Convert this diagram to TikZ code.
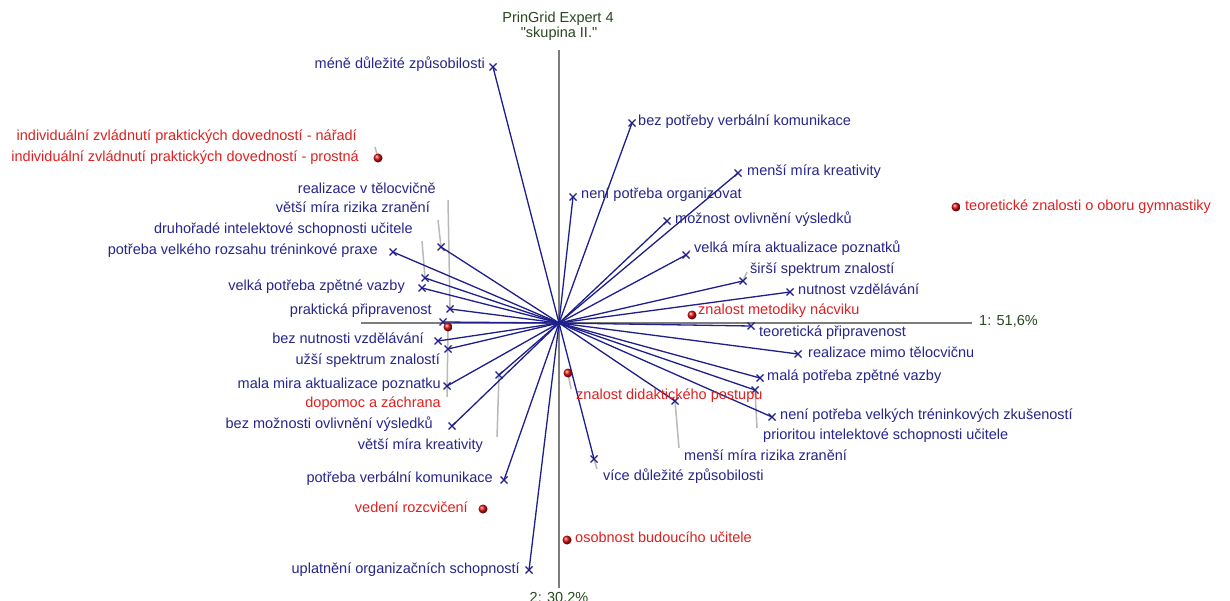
\documentclass[tikz,border=0pt]{standalone}
\usepackage{fontspec}
\setmainfont{Liberation Sans}
\usetikzlibrary{shadings}

\definecolor{rayblue}{RGB}{30,30,140}
\definecolor{txtblue}{RGB}{38,38,140}
\definecolor{txtred}{RGB}{222,32,32}
\definecolor{dotred}{RGB}{215,10,10}
\definecolor{titlegreen}{RGB}{40,72,32}
\definecolor{axisgray}{RGB}{125,125,125}
\definecolor{leadgray}{RGB}{185,185,185}

\tikzset{
  ray/.style={draw=rayblue, line width=1.3pt},
  axisline/.style={draw=axisgray, line width=1.2pt},
  leader/.style={draw=leadgray, line width=1.5pt},
  crossline/.style={draw=rayblue, line width=1.2pt},
  xmark/.pic={\draw[crossline] (-3.5,-3.5) -- (3.5,3.5) (-3.5,3.5) -- (3.5,-3.5);},
  lbl/.style={inner sep=0pt, text height=10pt, text depth=3pt, font=\fontsize{14.5}{16}\selectfont},
  bl/.style={lbl, text=txtblue},
  rl/.style={lbl, text=txtred},
  gl/.style={lbl, text=titlegreen},
  reddot/.style={circle, inner sep=0pt, minimum size=9pt}
}

\begin{document}
\begin{tikzpicture}[x=1pt, y=-1pt]
\useasboundingbox (0,0) rectangle (1230,601);
\fill[white] (0,0) rectangle (1230,601);

% title and axes
\node[gl] (title1) at (558,19) {PrinGrid Expert 4};
\node[gl] (title2) at (559,34) {\textquotedbl skupina II.\textquotedbl};
\coordinate (O) at (559,323);
\coordinate (axL) at (361,323);
\coordinate (axR) at (972,323);
\coordinate (axT) at (559,50);
\coordinate (axB) at (559,588);
\draw[axisline] (axL) -- (axR);
\draw[axisline] (axT) -- (axB);
\node[gl, anchor=west] (ax1) at (979,322) {1: 51,6\%};
\node[gl, anchor=base] (ax2) at (559,602) {2: 30,2\%};

% construct poles (right)
\coordinate (r1) at (632,123);
\coordinate (r2) at (738,173);
\coordinate (r3) at (573,197);
\coordinate (r4) at (667,221);
\coordinate (r5) at (686,255);
\coordinate (r6) at (743,281);
\coordinate (r7) at (790,292);
\coordinate (r8) at (751,326);
\coordinate (r9) at (798,354);
\coordinate (r10) at (760,378);
\coordinate (r11) at (755,390);
\coordinate (r12) at (772,417);
\coordinate (r13) at (675,401);
\coordinate (r14) at (594,459);
% construct poles (left)
\coordinate (l1) at (493,67);
\coordinate (l2) at (450,309);
\coordinate (l3) at (441,247);
\coordinate (l4) at (425,278);
\coordinate (l5) at (393,252);
\coordinate (l6) at (422,288);
\coordinate (l7) at (443,322);
\coordinate (l8) at (438,341);
\coordinate (l9) at (448,349);
\coordinate (l10) at (447,386);
\coordinate (l11) at (452,426);
\coordinate (l12) at (499,375);
\coordinate (l13) at (504,480);
\coordinate (l14) at (529,570);

% elements
\node[reddot] (d1) at (378,158) {};
\node[reddot] (d2) at (956,207) {};
\node[reddot] (d3) at (692,315) {};
\node[reddot] (d4) at (568,373) {};
\node[reddot] (d5) at (448,327) {};
\node[reddot] (d6) at (483,509) {};
\node[reddot] (d7) at (567,540) {};

% leader ends
\coordinate (e1) at (375,147);
\coordinate (e4) at (571,389);
\coordinate (e5) at (447,397);
\coordinate (er5) at (690,250);
\coordinate (er6) at (747,272);
\coordinate (er11) at (757,428);
\coordinate (er13) at (679,448);
\coordinate (er14) at (597,469);
\coordinate (el2) at (448,200);
\coordinate (el3) at (438,220);
\coordinate (el4) at (422,241);
\coordinate (el12) at (497,437);

\draw[leader] (d1.center) -- (e1);
\draw[leader] (d4.center) -- (e4);
\draw[leader] (d5.center) -- (e5);
\draw[leader] (r5) -- (er5);
\draw[leader] (r6) -- (er6);
\draw[leader] (r11) -- (er11);
\draw[leader] (r13) -- (er13);
\draw[leader] (r14) -- (er14);
\draw[leader] (l2) -- (el2);
\draw[leader] (l3) -- (el3);
\draw[leader] (l4) -- (el4);
\draw[leader] (l12) -- (el12);

% rays from the origin to each pole
\foreach \p in {r1,r2,r3,r4,r5,r6,r7,r8,r9,r10,r11,r12,r13,r14,
                l1,l2,l3,l4,l5,l6,l7,l8,l9,l10,l11,l12,l13,l14}{
  \draw[ray] (O) -- (\p);
  \pic at (\p) {xmark};
}

% element dots drawn above the rays
\foreach \d in {d1,d2,d3,d4,d5,d6,d7}{
  \shade[ball color=dotred] (\d.center) circle (4.5);
}

% right pole labels
\node[bl, anchor=west] (t-r1) at (638,122) {bez potřeby verbální komunikace};
\node[bl, anchor=west] (t-r2) at (747,172) {menší míra kreativity};
\node[bl, anchor=west] (t-r3) at (581,195) {není potřeba organizovat};
\node[bl, anchor=west] (t-r4) at (675,220) {možnost ovlivnění výsledků};
\node[bl, anchor=west] (t-r5) at (694,249) {velká míra aktualizace poznatků};
\node[bl, anchor=west] (t-r6) at (750,270) {širší spektrum znalostí};
\node[bl, anchor=west] (t-r7) at (798,291) {nutnost vzdělávání};
\node[bl, anchor=west] (t-r8) at (759,333) {teoretická připravenost};
\node[bl, anchor=west] (t-r9) at (808,354) {realizace mimo tělocvičnu};
\node[bl, anchor=west] (t-r10) at (767,377) {malá potřeba zpětné vazby};
\node[bl, anchor=west] (t-r11) at (763,436) {prioritou intelektové schopnosti učitele};
\node[bl, anchor=west] (t-r12) at (780,416) {není potřeba velkých tréninkových zkušeností};
\node[bl, anchor=west] (t-r13) at (684,457) {menší míra rizika zranění};
\node[bl, anchor=west] (t-r14) at (603,477) {více důležité způsobilosti};

% left pole labels
\node[bl, anchor=east] (t-l1) at (485,65) {méně důležité způsobilosti};
\node[bl, anchor=east] (t-l2) at (436,190) {realizace v tělocvičně};
\node[bl, anchor=east] (t-l3) at (430,209) {větší míra rizika zranění};
\node[bl, anchor=east] (t-l4) at (413,230) {druhořadé intelektové schopnosti učitele};
\node[bl, anchor=east] (t-l5) at (378,251) {potřeba velkého rozsahu tréninkové praxe};
\node[bl, anchor=east] (t-l6) at (405,287) {velká potřeba zpětné vazby};
\node[bl, anchor=east] (t-l7) at (432,311) {praktická připravenost};
\node[bl, anchor=east] (t-l8) at (424,340) {bez nutnosti vzdělávání};
\node[bl, anchor=east] (t-l9) at (440,361) {užší spektrum znalostí};
\node[bl, anchor=east] (t-l10) at (441,385) {mala mira aktualizace poznatku};
\node[bl, anchor=east] (t-l11) at (433,425) {bez možnosti ovlivnění výsledků};
\node[bl, anchor=east] (t-l12) at (483,446) {větší míra kreativity};
\node[bl, anchor=east] (t-l13) at (493,479) {potřeba verbální komunikace};
\node[bl, anchor=east] (t-l14) at (520,570) {uplatnění organizačních schopností};

% element labels
\node[rl, anchor=east] (t-d1a) at (357,137) {individuální zvládnutí praktických dovedností - nářadí};
\node[rl, anchor=east] (t-d1b) at (359,158) {individuální zvládnutí praktických dovedností - prostná};
\node[rl, anchor=west] (t-d2) at (965,207) {teoretické znalosti o oboru gymnastiky};
\node[rl, anchor=west] (t-d3) at (698,311) {znalost metodiky nácviku};
\node[rl, anchor=west] (t-d4) at (576,396) {znalost didaktického postupu};
\node[rl, anchor=east] (t-d5) at (441,404) {dopomoc a záchrana};
\node[rl, anchor=east] (t-d6) at (468,509) {vedení rozcvičení};
\node[rl, anchor=west] (t-d7) at (575,539) {osobnost budoucího učitele};
\end{tikzpicture}
\end{document}
